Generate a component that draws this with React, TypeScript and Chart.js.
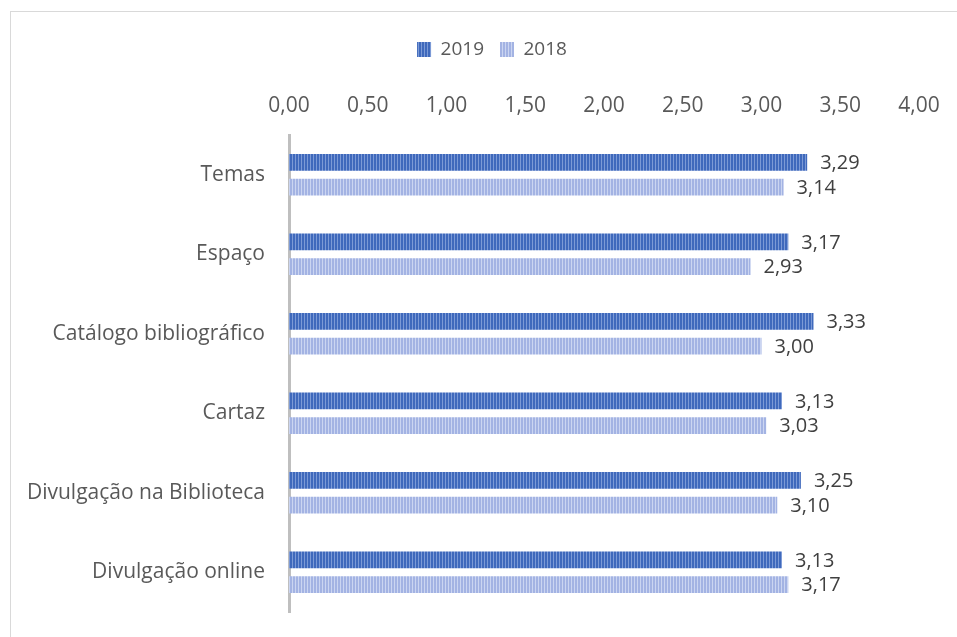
import React, { useEffect, useRef } from "react";
import { Chart, registerables } from "chart.js";

Chart.register(...registerables);

const categories = [
  "Temas",
  "Espaço",
  "Catálogo bibliográfico",
  "Cartaz",
  "Divulgação na Biblioteca",
  "Divulgação online",
];
const values2019 = [3.29, 3.17, 3.33, 3.13, 3.25, 3.13];
const values2018 = [3.14, 2.93, 3.0, 3.03, 3.1, 3.17];
const seriesNames = ["2019", "2018"];

const FONT = "'Open Sans', sans-serif";

function makePattern(base: string, stripe: string): CanvasPattern | string {
  const c = document.createElement("canvas");
  c.width = 3;
  c.height = 4;
  const g = c.getContext("2d");
  if (!g) return base;
  g.fillStyle = base;
  g.fillRect(0, 0, 3, 4);
  g.fillStyle = stripe;
  g.fillRect(2, 0, 1, 4);
  const p = g.createPattern(c, "repeat");
  return p || base;
}

const fmt = (v: number) => v.toFixed(2).replace(".", ",");

const labelPlugin = {
  id: "valueLabels",
  afterDatasetsDraw(chart: any) {
    const ctx = chart.ctx;
    ctx.save();
    ctx.font = `20px ${FONT}`;
    ctx.fillStyle = "#404040";
    ctx.textAlign = "left";
    ctx.textBaseline = "middle";
    chart.data.datasets.forEach((ds: any, i: number) => {
      const meta = chart.getDatasetMeta(i);
      meta.data.forEach((bar: any, j: number) => {
        ctx.fillText(fmt(ds.data[j]), bar.x + 13, bar.y + 1);
      });
    });
    ctx.restore();
  },
};

export default function App() {
  const ref = useRef<HTMLCanvasElement | null>(null);
  useEffect(() => {
    if (!ref.current) return;
    const p2019 = makePattern("#3F69BC", "#7C9AD6");
    const p2018 = makePattern("#A3B3E3", "#CBD5F1");
    const chart = new Chart(ref.current, {
      type: "bar",
      data: {
        labels: categories,
        datasets: [
          {
            label: seriesNames[0],
            data: values2019,
            backgroundColor: p2019 as any,
            borderWidth: 0,
            barPercentage: 0.68,
            categoryPercentage: 0.625,
          },
          {
            label: seriesNames[1],
            data: values2018,
            backgroundColor: p2018 as any,
            borderWidth: 0,
            barPercentage: 0.68,
            categoryPercentage: 0.625,
          },
        ],
      },
      options: {
        indexAxis: "y",
        animation: false,
        responsive: false,
        maintainAspectRatio: false,
        layout: { padding: { top: 12, right: 0, bottom: 25, left: 16 } },
        plugins: {
          legend: {
            position: "top",
            labels: {
              boxWidth: 14,
              boxHeight: 15,
              padding: 16,
              color: "#595959",
              font: { family: FONT, size: 19 },
            },
          },
          tooltip: { enabled: false },
        },
        scales: {
          x: {
            position: "top",
            min: 0,
            max: 4,
            ticks: {
              stepSize: 0.5,
              color: "#595959",
              font: { family: FONT, size: 21 },
              padding: 16,
              callback: (v: any) => fmt(Number(v)),
            },
            grid: { display: false, drawTicks: false },
            border: { display: false },
            afterFit: (s: any) => {
              s.height = 66;
              s.paddingRight = 38;
              s.paddingLeft = 0;
            },
          },
          y: {
            ticks: {
              color: "#595959",
              font: { family: FONT, size: 21 },
              padding: 24,
            },
            grid: { display: false, drawTicks: false },
            border: { display: true, color: "#BFBFBF", width: 3 },
            afterFit: (s: any) => {
              s.width = 262;
              s.paddingTop = 0;
              s.paddingBottom = 0;
            },
          },
        },
      },
      plugins: [labelPlugin],
    });
    return () => chart.destroy();
  }, []);
  return (
    <div
      style={{
        position: "fixed",
        left: 10,
        top: 11,
        width: 947,
        height: 626,
        borderLeft: "1px solid #D9D9D9",
        borderTop: "1px solid #D9D9D9",
        background: "#fff",
      }}
    >
      <canvas ref={ref} width={946} height={625} style={{ display: "block" }} />
    </div>
  );
}
